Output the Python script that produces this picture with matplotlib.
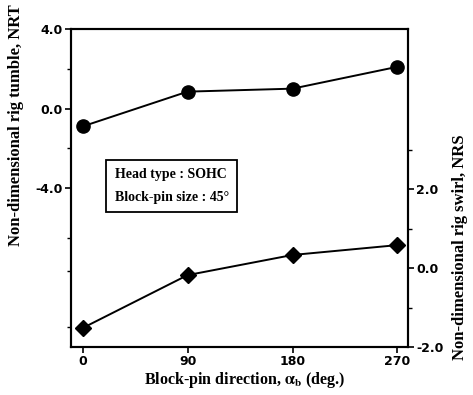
import numpy as np
import matplotlib.pyplot as plt
from matplotlib.ticker import FixedLocator

# Data
direction = [0, 90, 180, 270]
nrt = [-0.9, 0.85, 1.0, 2.1]      # tumble, left axis
nrs = [-1.52, -0.18, 0.33, 0.58]  # swirl, right axis

serif = ['Liberation Serif', 'DejaVu Serif']
plt.rcParams['mathtext.fontset'] = 'stix'

fig = plt.figure(figsize=(4.73, 3.95), dpi=100)
ax = fig.add_axes([0.150, 0.1215, 0.7125, 0.805])
ax2 = ax.twinx()

ax.plot(direction, nrt, color='black', lw=1.4, marker='o', ms=9.5, zorder=3)
ax2.plot(direction, nrs, color='black', lw=1.4, marker='D', ms=8.5, zorder=3)

ax.set_xlim(-10, 279)
ax.set_ylim(-12, 4)
ax2.set_ylim(-2, 6.05)

ax.set_xticks(direction)
ax.set_yticks([4, 0, -4])
ax.set_yticklabels(['4.0', '0.0', '-4.0'])
ax.yaxis.set_minor_locator(FixedLocator([2, -2, -6.5, -8.2, -11]))
ax2.set_yticks([2, 0, -2])
ax2.set_yticklabels(['2.0', '0.0', '-2.0'])
ax2.yaxis.set_minor_locator(FixedLocator([3, 1, -1]))

for a in (ax, ax2):
    a.tick_params(which='major', direction='out', length=4, width=1.2,
                  labelsize=9, pad=2)
    a.tick_params(which='minor', direction='out', length=3, width=1)
    for lbl in a.get_xticklabels() + a.get_yticklabels():
        lbl.set_fontweight('bold')
    for s in a.spines.values():
        s.set_linewidth(1.5)

fig.text(0.518, 0.038, r'Block-pin direction, $\mathbf{\alpha_b}$ (deg.)',
         ha='center', va='center', fontsize=11.5, fontweight='bold', family=serif)
fig.text(0.033, 0.684, 'Non-dimensional rig tumble, NRT', rotation=90,
         ha='center', va='center', fontsize=12, fontweight='bold', family=serif)
fig.text(0.972, 0.375, 'Non-dimensional rig swirl, NRS', rotation=90,
         ha='center', va='center', fontsize=12, fontweight='bold', family=serif)

ax.text(0.13, 0.506, 'Head type : SOHC\n\nBlock-pin size : 45°',
        transform=ax.transAxes, ha='left', va='center', fontsize=10,
        fontweight='bold', family=serif, linespacing=0.85,
        bbox=dict(boxstyle='square,pad=0.6', fc='white', ec='black', lw=1.3))

fig.savefig('out.png', dpi=100)
